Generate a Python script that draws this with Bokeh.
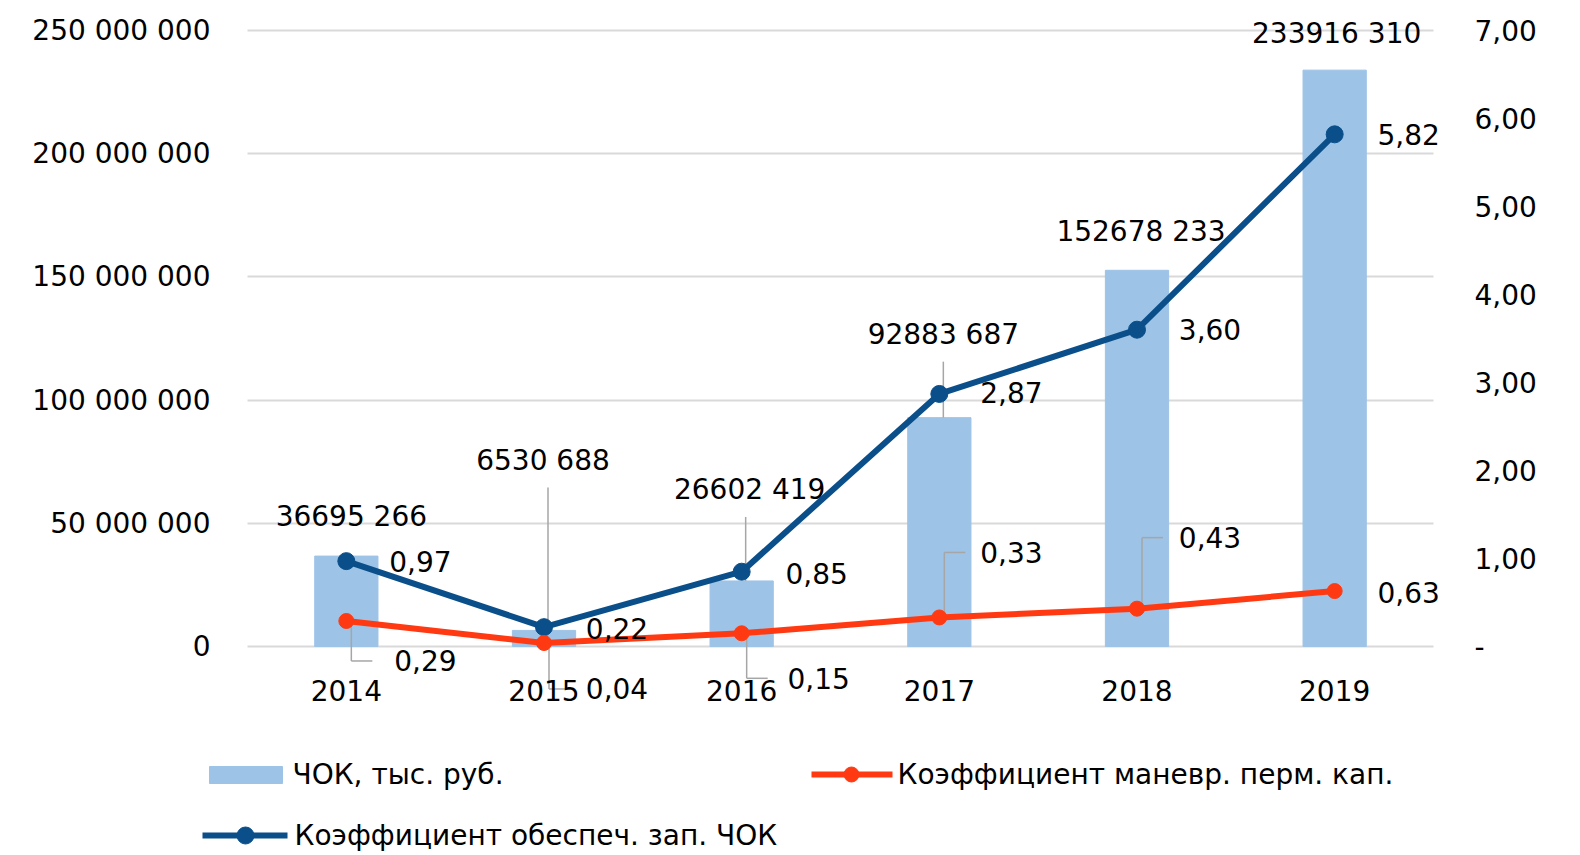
from bokeh.plotting import figure
from bokeh.models import (Range1d, LinearAxis, FixedTicker, CustomJSTickFormatter)
from bokeh.embed import file_html
from bokeh.resources import INLINE
from bokeh.core.properties import value

# ---------------- data ----------------
years = ["2014", "2015", "2016", "2017", "2018", "2019"]
chok = [36695266, 6530688, 26602419, 92883687, 152678233, 233916310]          # ЧОК, тыс. руб.
k_manevr = [0.29, 0.04, 0.15, 0.33, 0.43, 0.63]                               # Коэффициент маневр. перм. кап.
k_obesp = [0.97, 0.22, 0.85, 2.87, 3.60, 5.82]                                # Коэффициент обеспеч. зап. ЧОК
left_ticks = [0, 50000000, 100000000, 150000000, 200000000, 250000000]
right_ticks = [0, 1, 2, 3, 4, 5, 6, 7]
legend_labels = ["ЧОК, тыс. руб.", "Коэффициент маневр. перм. кап.",
                 "Коэффициент обеспеч. зап. ЧОК"]

# ---------------- style ----------------
FONT = "DejaVu Sans"
FS = "28px"
BAR = "#9DC3E6"
BLUE = "#0B4F8A"
RED = "#FF3A12"
GRID = "#D9D9D9"
LEAD = "#A6A6A6"
TXT = "#000000"

W, H = 1576, 854
PL, PR, PT, PZ = 247, 1433, 30, 646     # plot area: left, right, top gridline, zero line (px)
ncat = len(years)
pxc = (PR - PL) / ncat
pxl = (PZ - PT) / left_ticks[-1]
pxr = (PZ - PT) / right_ticks[-1]


def X(px):
    return (px - PL) / pxc


def YL(py):
    return (PZ - py) / pxl


xs = [i + 0.5 for i in range(ncat)]    # category centres

x_range = Range1d(X(0), X(W))
left_range = Range1d(-(H - PZ) / pxl, left_ticks[-1] + PT / pxl)
right_range = Range1d(-(H - PZ) / pxr, right_ticks[-1] + PT / pxr)

# label offsets (px, +down)
bar_dx = [5, -1, 8, 4, 4, 2]
bar_dy = [-40, -170, -91, -83, -39, -37]
blue_dx = [74, 73, 75, 72, 73, 74]
blue_dy = [0, 1, 2, -1, 0, 0]
red_dx = [79, 73, 77, 72, 73, 74]
red_dy = [40, 46, 45, -65, -71, 1]

p = figure(width=W, height=H, x_range=x_range, y_range=left_range,
           output_backend="svg", toolbar_location=None,
           min_border=0, min_border_left=0, min_border_right=0,
           min_border_top=0, min_border_bottom=0, outline_line_color=None)
p.extra_y_ranges = {"r": right_range}

# grid
p.xgrid.visible = False
p.ygrid.ticker = FixedTicker(ticks=left_ticks)
p.ygrid.grid_line_color = GRID
p.ygrid.grid_line_width = 2
try:
    p.ygrid.cross_bounds = (0, ncat)
except Exception:
    p.ygrid.visible = False
    p.segment(x0=[0] * len(left_ticks), x1=[ncat] * len(left_ticks),
              y0=left_ticks, y1=left_ticks, line_color=GRID, line_width=2)

p.vbar(x=xs, top=chok, width=0.32, color=BAR)

# leader lines
lx0, ly0, lx1, ly1 = [], [], [], []
for i, xc in enumerate(xs):
    if abs(red_dy[i]) > 20:
        yl = k_manevr[i] - red_dy[i] / pxr
        lx0 += [xc + 5 / pxc, xc + 5 / pxc]
        lx1 += [xc + 5 / pxc, xc + 26 / pxc]
        ly0 += [k_manevr[i], yl]
        ly1 += [yl, yl]
p.segment(x0=lx0, y0=ly0, x1=lx1, y1=ly1, y_range_name="r", line_color=LEAD, line_width=1.5)

bx, by0, by1 = [], [], []
for i, xc in enumerate(xs):
    if bar_dy[i] < -60:
        bx.append(xc + 4 / pxc)
        by0.append(chok[i] - (bar_dy[i] + 27) / pxl)
        by1.append(chok[i])
p.segment(x0=bx, y0=by0, x1=bx, y1=by1, line_color=LEAD, line_width=1.5)

p.line(xs, k_obesp, y_range_name="r", color=BLUE, line_width=6)
p.scatter(xs, k_obesp, y_range_name="r", size=17, color=BLUE)
p.line(xs, k_manevr, y_range_name="r", color=RED, line_width=6)
p.scatter(xs, k_manevr, y_range_name="r", size=15, color=RED)

txt = dict(text_align="center", text_baseline="middle", text_font=value(FONT),
           text_font_size=FS, text_color=TXT)
p.text(x=[xc + d / pxc for xc, d in zip(xs, bar_dx)],
       y=[v - d / pxl for v, d in zip(chok, bar_dy)],
       text=[f"{v // 1000} {v % 1000:03d}" for v in chok], **txt)
p.text(x=[xc + d / pxc for xc, d in zip(xs, blue_dx)],
       y=[v - d / pxr for v, d in zip(k_obesp, blue_dy)],
       text=[f"{v:.2f}".replace(".", ",") for v in k_obesp], y_range_name="r", **txt)
p.text(x=[xc + d / pxc for xc, d in zip(xs, red_dx)],
       y=[v - d / pxr for v, d in zip(k_manevr, red_dy)],
       text=[f"{v:.2f}".replace(".", ",") for v in k_manevr], y_range_name="r", **txt)

# axes
xax = p.xaxis[0]
xax.ticker = FixedTicker(ticks=xs)
xax.formatter = CustomJSTickFormatter(args=dict(labels=years),
                                      code="return labels[Math.floor(tick)];")
xax.fixed_location = 0
xax.major_label_standoff = 27

lax = p.yaxis[0]
lax.ticker = FixedTicker(ticks=left_ticks)
lax.formatter = CustomJSTickFormatter(
    code=r"return tick.toFixed(0).replace(/\B(?=(\d{3})+(?!\d))/g, ' ');")
lax.fixed_location = 0
lax.major_label_standoff = 31

rax = LinearAxis(y_range_name="r", ticker=FixedTicker(ticks=right_ticks),
                 formatter=CustomJSTickFormatter(
                     code="return tick == 0 ? '-' : tick.toFixed(2).replace('.', ',');"))
rax.fixed_location = ncat
rax.major_label_standoff = 35
p.add_layout(rax, "right")

for ax in [xax, lax, rax]:
    ax.axis_line_color = None
    ax.major_tick_line_color = None
    ax.minor_tick_line_color = None
    ax.major_label_text_font = FONT
    ax.major_label_text_font_size = FS
    ax.major_label_text_color = TXT

# legend (drawn below the plot area)
p.quad(left=[X(209)], right=[X(282)], top=[YL(766)], bottom=[YL(783)], color=BAR)
p.line([X(811), X(892)], [YL(774)] * 2, color=RED, line_width=6)
p.scatter([X(851)], [YL(774)], size=15, color=RED)
p.line([X(202), X(287)], [YL(835)] * 2, color=BLUE, line_width=6)
p.scatter([X(245)], [YL(835)], size=17, color=BLUE)
p.text(x=[X(292), X(897), X(294)], y=[YL(774), YL(774), YL(835)], text=legend_labels,
       text_align="left", text_baseline="middle", text_font=value(FONT),
       text_font_size=FS, text_color=TXT)

open("out.html", "w").write(file_html(p, INLINE))
